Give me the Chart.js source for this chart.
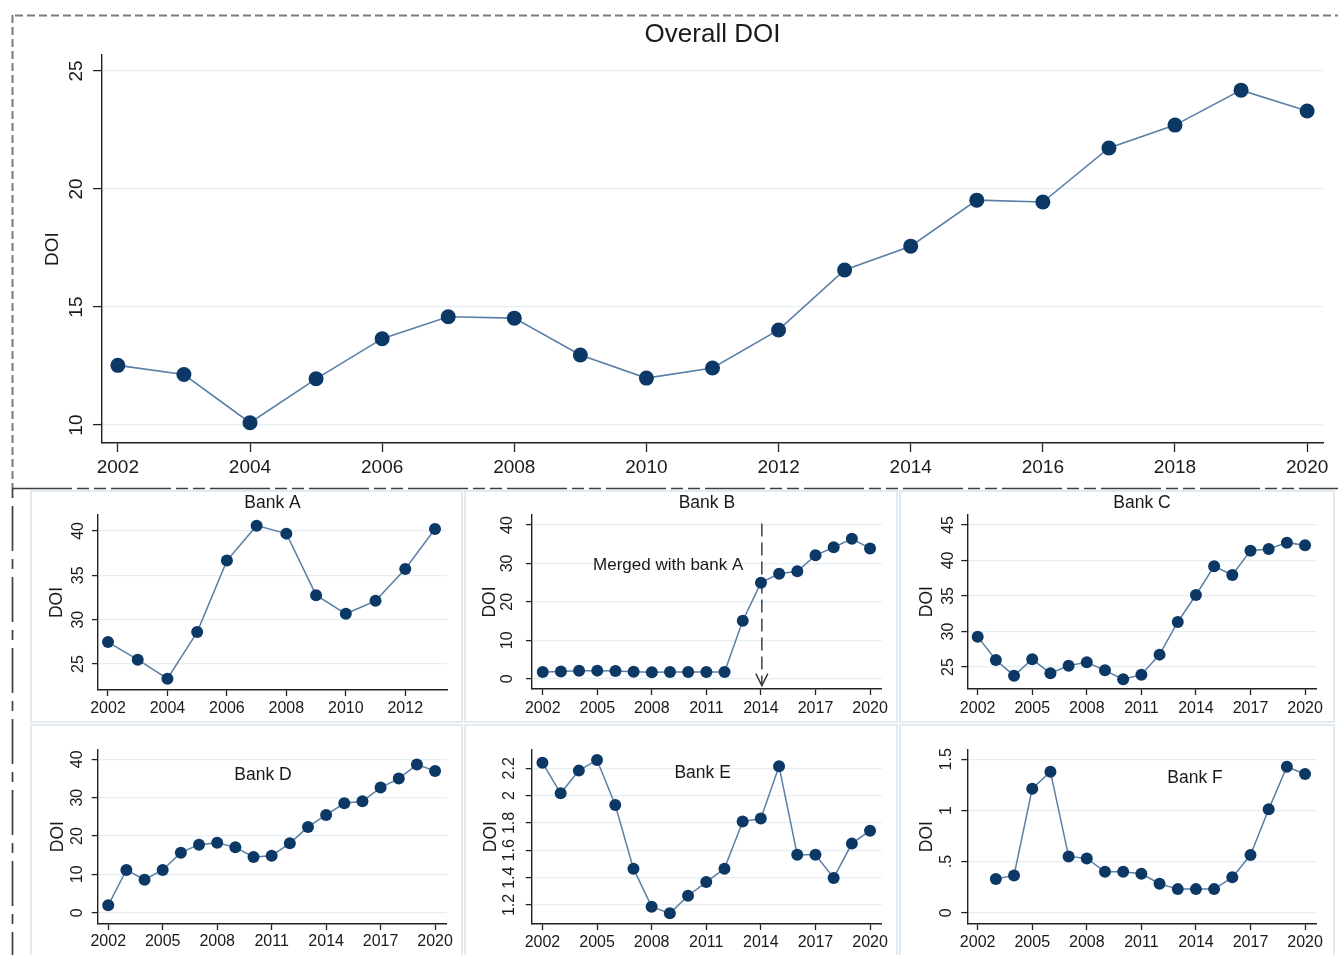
<!DOCTYPE html>
<html>
<head>
<meta charset="utf-8">
<title>DOI by bank, 2002–2020</title>
<script src="https://cdn.jsdelivr.net/npm/chart.js@4/dist/chart.umd.min.js"></script>
<style>
  html, body { margin: 0; padding: 0; background: #ffffff; }
  body { width: 1338px; height: 955px; position: relative; overflow: hidden; }
  canvas { position: absolute; display: block; }
  .panel { position: absolute; box-sizing: border-box; border: 2px solid #e2ebf1; }
  svg.frame { position: absolute; left: 0; top: 0; pointer-events: none; }
</style>
</head>
<body>
<!-- light frames around the six bank panels -->
<div class="panel" style="left:30px;top:490px;width:433px;height:233px"></div>
<div class="panel" style="left:464px;top:490px;width:434px;height:233px"></div>
<div class="panel" style="left:899px;top:490px;width:436px;height:233px"></div>
<div class="panel" style="left:30px;top:724px;width:433px;height:240px"></div>
<div class="panel" style="left:464px;top:724px;width:434px;height:240px"></div>
<div class="panel" style="left:899px;top:724px;width:436px;height:240px"></div>

<canvas id="overall"></canvas>
<canvas id="bankA"></canvas>
<canvas id="bankB"></canvas>
<canvas id="bankC"></canvas>
<canvas id="bankD"></canvas>
<canvas id="bankE"></canvas>
<canvas id="bankF"></canvas>

<!-- dashed outline of the combined figure -->
<svg class="frame" width="1338" height="955">
  <line x1="15" y1="15.5" x2="1338" y2="15.5" stroke="#7a7a7a" stroke-width="2" stroke-dasharray="8 4"/>
  <line x1="12.5" y1="15" x2="12.5" y2="488" stroke="#7a7a7a" stroke-width="2" stroke-dasharray="8 4"/>
  <line x1="12" y1="488.5" x2="1338" y2="488.5" stroke="#3e3e3e" stroke-width="1.7" stroke-dasharray="60 5 12 5 12 5"/>
  <line x1="12.5" y1="488" x2="12.5" y2="955" stroke="#3e3e3e" stroke-width="1.7" stroke-dasharray="10 8 45 8"/>
</svg>

<script>
// ---- data -------------------------------------------------------------
const years = [2002, 2003, 2004, 2005, 2006, 2007, 2008, 2009, 2010, 2011,
               2012, 2013, 2014, 2015, 2016, 2017, 2018, 2019, 2020];
const yearsBankA = [2002, 2003, 2004, 2005, 2006, 2007, 2008, 2009, 2010, 2011, 2012, 2013];

const overallDOI = [12.53, 12.14, 10.10, 11.96, 13.66, 14.59, 14.53, 12.97, 11.99, 12.42,
                    14.03, 16.57, 17.58, 19.53, 19.45, 21.74, 22.71, 24.19, 23.31];
const bankA = [27.47, 25.49, 23.35, 28.60, 36.66, 40.60, 39.70, 32.76, 30.66, 32.12, 35.72, 40.22];
const bankB = [1.74, 1.90, 2.08, 2.10, 2.00, 1.82, 1.65, 1.74, 1.74, 1.74,
               1.74, 15.10, 25.00, 27.30, 27.95, 32.10, 34.20, 36.40, 33.90];
const bankC = [29.27, 25.99, 23.78, 26.08, 24.11, 25.19, 25.66, 24.53, 23.26, 23.92,
               26.74, 31.34, 35.14, 39.18, 37.96, 41.38, 41.62, 42.51, 42.14];
const bankD = [1.91, 11.13, 8.61, 11.13, 15.65, 17.74, 18.26, 17.04, 14.52, 14.87,
               18.09, 22.35, 25.48, 28.52, 29.04, 32.61, 34.96, 38.61, 36.96];
const bankE = [2.241, 2.017, 2.183, 2.261, 1.932, 1.466, 1.188, 1.139, 1.268, 1.368,
               1.466, 1.810, 1.832, 2.215, 1.568, 1.568, 1.398, 1.649, 1.744];
const bankF = [null, 0.329, 0.365, 1.213, 1.379, 0.551, 0.531, 0.401, 0.401, 0.381,
               0.284, 0.231, 0.231, 0.231, 0.346, 0.564, 1.011, 1.428, 1.356];

// ---- tick values and labels --------------------------------------------
const overallXTicks = [2002, 2004, 2006, 2008, 2010, 2012, 2014, 2016, 2018, 2020];
const overallYTicks = [10, 15, 20, 25];
const bankAXTicks = [2002, 2004, 2006, 2008, 2010, 2012];
const bankXTicks = [2002, 2005, 2008, 2011, 2014, 2017, 2020];
const bankAYTicks = [25, 30, 35, 40];
const bankBYTicks = [0, 10, 20, 30, 40];
const bankCYTicks = [25, 30, 35, 40, 45];
const bankDYTicks = [0, 10, 20, 30, 40];
const bankEYTicks = [1.2, 1.4, 1.6, 1.8, 2, 2.2];
const bankFYTicks = [0, 0.5, 1, 1.5];
const bankFYLabels = ['0', '.5', '1', '1.5'];

// ---- styling ------------------------------------------------------------
const FAMILY = '"Liberation Sans", Arial, Helvetica, sans-serif';
const INK = '#1a1a1a';
const AXIS = '#222222';
const GRID = '#e4eef3';
const MARKER = '#0c3865';
const LINE = '#5b7fa6';

Chart.defaults.font.family = FAMILY;
Chart.defaults.color = INK;

// text labels and arrows placed in data space
const notesPlugin = {
  id: 'notes',
  beforeDatasetsDraw(chart, args, opts) {
    const { ctx } = chart;
    const xs = chart.scales.x, ys = chart.scales.y;
    (opts.arrows || []).forEach(a => {
      const px = xs.getPixelForValue(a.x);
      const p0 = ys.getPixelForValue(a.from);
      const p1 = ys.getPixelForValue(a.to);
      ctx.save();
      ctx.strokeStyle = a.color;
      ctx.lineWidth = a.width;
      ctx.setLineDash(a.dash);
      ctx.beginPath();
      ctx.moveTo(px, p0);
      ctx.lineTo(px, p1);
      ctx.stroke();
      ctx.setLineDash([]);
      ctx.beginPath();
      ctx.moveTo(px - a.headHalf, p1 - a.headLen);
      ctx.lineTo(px, p1);
      ctx.lineTo(px + a.headHalf, p1 - a.headLen);
      ctx.stroke();
      ctx.restore();
    });
    (opts.texts || []).forEach(t => {
      ctx.save();
      ctx.font = t.size + 'px ' + FAMILY;
      ctx.fillStyle = INK;
      ctx.textAlign = 'center';
      ctx.textBaseline = 'middle';
      ctx.fillText(t.text, xs.getPixelForValue(t.x), ys.getPixelForValue(t.y));
      ctx.restore();
    });
  }
};

function buildChart(s) {
  const c = document.getElementById(s.id);
  c.width = s.rect.w;
  c.height = s.rect.h;
  Object.assign(c.style, {
    left: s.rect.x + 'px', top: s.rect.y + 'px',
    width: s.rect.w + 'px', height: s.rect.h + 'px'
  });

  const yAxisWidth = s.plot.l - s.rect.x;
  const xAxisHeight = s.rect.y + s.rect.h - s.plot.b;
  const padRight = s.rect.x + s.rect.w - s.plot.r;
  let padTop = s.plot.t - s.rect.y;
  let titleOpt = { display: false };
  if (s.title) {
    const lh = s.titleSize * 1.2;
    const pt = s.titleY - s.rect.y - lh / 2;
    const pb = s.plot.t - s.rect.y - pt - lh;
    titleOpt = {
      display: true, text: s.title, fullSize: false, color: INK,
      font: { size: s.titleSize, weight: 'normal', family: FAMILY },
      padding: { top: pt, bottom: pb }
    };
    padTop = 0;
  }

  const points = s.xs.map((yr, i) => ({ x: yr, y: s.values[i] }));
  const yLabels = s.yLabels || s.yTicks.map(v => String(v));

  return new Chart(c, {
    type: 'line',
    data: {
      datasets: [{
        data: points,
        borderColor: LINE,
        borderWidth: s.lineWidth,
        pointRadius: s.radius,
        pointHoverRadius: s.radius,
        pointBackgroundColor: MARKER,
        pointBorderColor: MARKER,
        pointBorderWidth: 0,
        tension: 0,
        spanGaps: false,
        fill: false,
        clip: false
      }]
    },
    options: {
      responsive: false,
      animation: false,
      events: [],
      layout: { padding: { left: 0, right: padRight, top: padTop, bottom: 0 }, autoPadding: false },
      plugins: {
        legend: { display: false },
        tooltip: { enabled: false },
        title: titleOpt,
        notes: s.notes || {}
      },
      scales: {
        x: {
          type: 'linear', bounds: 'data', min: s.xMin, max: s.xMax,
          afterBuildTicks: sc => { sc.ticks = s.xTicks.map(v => ({ value: v })); },
          afterFit: sc => { sc.height = xAxisHeight; },
          ticks: {
            callback: (v, i) => String(s.xTicks[i]),
            font: { size: s.tickSize }, color: INK, padding: s.xPad,
            minRotation: 0, maxRotation: 0, autoSkip: false
          },
          grid: {
            drawOnChartArea: false, drawTicks: true, tickLength: s.tickLen,
            tickColor: AXIS, tickWidth: 1.3
          },
          border: { display: true, color: AXIS, width: 1.4 }
        },
        y: {
          type: 'linear', bounds: 'data', min: s.yMin, max: s.yMax,
          afterBuildTicks: sc => { sc.ticks = s.yTicks.map(v => ({ value: v })); },
          afterFit: sc => { sc.width = yAxisWidth; },
          ticks: {
            callback: (v, i) => yLabels[i],
            font: { size: s.tickSize }, color: INK, padding: s.yPad,
            minRotation: 90, maxRotation: 90, crossAlign: 'center', autoSkip: false
          },
          grid: {
            color: GRID, lineWidth: 1.2, drawTicks: true, tickLength: s.tickLen,
            tickColor: AXIS, tickWidth: 1.3
          },
          border: { display: true, color: AXIS, width: 1.4 },
          title: {
            display: true, text: 'DOI', color: INK,
            font: { size: s.axisTitleSize },
            padding: { top: s.yTitlePad, bottom: 0 }
          }
        }
      }
    },
    plugins: [notesPlugin]
  });
}

const panelCommon = {
  tickSize: 16, axisTitleSize: 17.5, titleSize: 17.5, tickLen: 6,
  radius: 6, lineWidth: 1.5
};

// overall series
buildChart({
  id: 'overall',
  rect: { x: 0, y: 0, w: 1338, h: 486 },
  plot: { l: 102, t: 55, r: 1323, b: 443 },
  xs: years, values: overallDOI,
  xMin: 2001.76, xMax: 2020.24, yMin: 9.24, yMax: 25.68,
  xTicks: overallXTicks, yTicks: overallYTicks,
  title: 'Overall DOI', titleSize: 26, titleY: 35,
  tickSize: 19, axisTitleSize: 19, tickLen: 9,
  xPad: 4.6, yPad: 6.0, yTitlePad: 41.5,
  radius: 7.5, lineWidth: 1.6
});

// top row of banks
buildChart(Object.assign({}, panelCommon, {
  id: 'bankA',
  rect: { x: 32, y: 492, w: 429, h: 229 },
  plot: { l: 98, t: 515, r: 447, b: 690 },
  xs: yearsBankA, values: bankA,
  xMin: 2001.664, xMax: 2013.404, yMin: 22.07, yMax: 41.80,
  xTicks: bankAXTicks, yTicks: bankAYTicks,
  title: 'Bank A', titleY: 503,
  xPad: 3.4, yPad: 5.0, yTitlePad: 15.0
}));

buildChart(Object.assign({}, panelCommon, {
  id: 'bankB',
  rect: { x: 466, y: 492, w: 430, h: 229 },
  plot: { l: 532, t: 515, r: 881.7, b: 689 },
  xs: years, values: bankB,
  xMin: 2001.41, xMax: 2020.64, yMin: -2.68, yMax: 42.6,
  xTicks: bankXTicks, yTicks: bankBYTicks,
  title: 'Bank B', titleY: 503,
  xPad: 4.4, yPad: 10.0, yTitlePad: 14.0,
  notes: {
    texts: [{ text: 'Merged with bank A', x: 2008.9, y: 29.6, size: 17 }],
    arrows: [{ x: 2014.05, from: 40.4, to: -1.8, color: '#333333', width: 1.4,
               dash: [13, 6], headHalf: 6, headLen: 12 }]
  }
}));

buildChart(Object.assign({}, panelCommon, {
  id: 'bankC',
  rect: { x: 901, y: 492, w: 432, h: 229 },
  plot: { l: 967.3, t: 514.3, r: 1316.7, b: 689 },
  xs: years, values: bankC,
  xMin: 2001.43, xMax: 2020.64, yMin: 21.9, yMax: 46.5,
  xTicks: bankXTicks, yTicks: bankCYTicks,
  title: 'Bank C', titleY: 503,
  xPad: 4.4, yPad: 4.0, yTitlePad: 15.5
}));

// bottom row of banks
buildChart(Object.assign({}, panelCommon, {
  id: 'bankD',
  rect: { x: 32, y: 726, w: 429, h: 229 },
  plot: { l: 97.7, t: 749.3, r: 446.7, b: 924 },
  xs: years, values: bankD,
  xMin: 2001.42, xMax: 2020.64, yMin: -2.95, yMax: 42.6,
  xTicks: bankXTicks, yTicks: bankDYTicks,
  xPad: 1.8, yPad: 5.4, yTitlePad: 15.8,
  notes: { texts: [{ text: 'Bank D', x: 2010.52, y: 35.9, size: 17.5 }] }
}));

buildChart(Object.assign({}, panelCommon, {
  id: 'bankE',
  rect: { x: 466, y: 726, w: 430, h: 229 },
  plot: { l: 531.7, t: 749.3, r: 881.7, b: 924 },
  xs: years, values: bankE,
  xMin: 2001.41, xMax: 2020.64, yMin: 1.061, yMax: 2.339,
  xTicks: bankXTicks, yTicks: bankEYTicks,
  xPad: 3.4, yPad: 5.2, yTitlePad: 15.0,
  notes: { texts: [{ text: 'Bank E', x: 2010.8, y: 2.166, size: 17.5 }] }
}));

buildChart(Object.assign({}, panelCommon, {
  id: 'bankF',
  rect: { x: 901, y: 726, w: 432, h: 229 },
  plot: { l: 967.3, t: 749.3, r: 1316.7, b: 924 },
  xs: years, values: bankF,
  xMin: 2001.43, xMax: 2020.64, yMin: -0.11, yMax: 1.598,
  xTicks: bankXTicks, yTicks: bankFYTicks, yLabels: bankFYLabels,
  xPad: 3.4, yPad: 4.0, yTitlePad: 15.2,
  notes: { texts: [{ text: 'Bank F', x: 2013.95, y: 1.317, size: 17.5 }] }
}));
</script>
</body>
</html>
